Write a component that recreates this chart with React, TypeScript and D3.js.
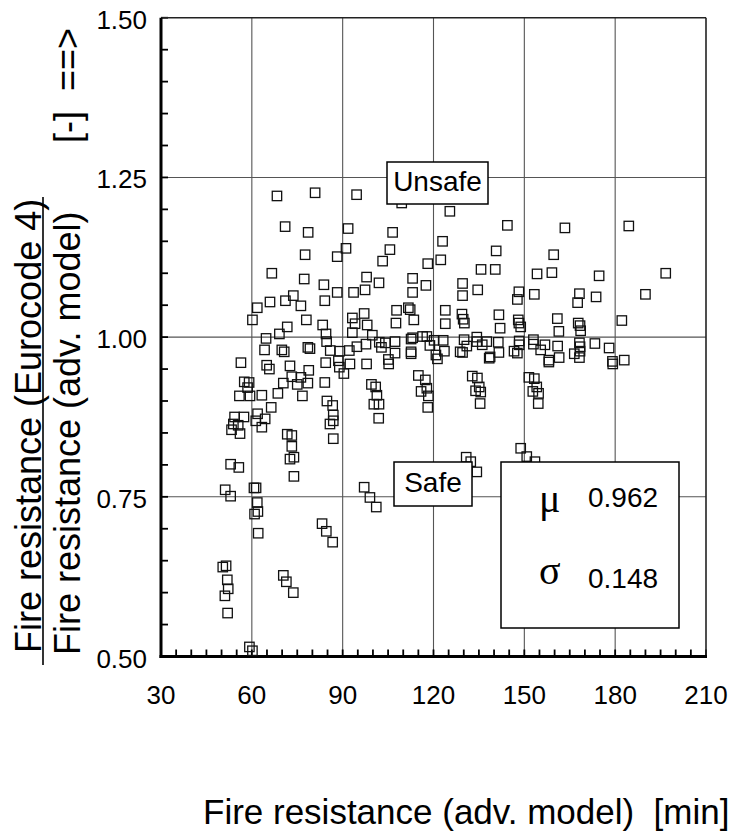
import React from 'react';
import * as d3 from 'd3';

// axis definitions
const xTicks = [30, 60, 90, 120, 150, 180, 210];
const xGrid = [60, 90, 120, 150, 180];
const yTicks = [0.5, 0.75, 1.0, 1.25, 1.5];
const yGrid = [0.75, 1.0, 1.25];
const xMinorStep = 5;
const yMinorStep = 0.05;

// upper cloud (ratio > ~1.07)
const upperX = [68.3, 80.9, 94.6, 109.5, 71.0, 78.6, 91.8, 106.5, 77.6, 91.1,
  88.2, 105.6, 103.2, 118.1, 66.6, 77.3, 83.8, 97.9, 97.4, 102.0,
  113.1, 117.5, 125.4, 144.4, 163.4, 184.5, 123.0, 140.7, 159.7, 122.4,
  135.7, 140.4, 154.2, 159.1, 174.7, 196.7, 129.6, 134.6];
const upperY = [1.221, 1.226, 1.223, 1.210, 1.173, 1.164, 1.170, 1.164, 1.129, 1.139,
  1.126, 1.137, 1.119, 1.115, 1.100, 1.091, 1.082, 1.094, 1.074, 1.085,
  1.092, 1.081, 1.197, 1.175, 1.171, 1.174, 1.150, 1.135, 1.129, 1.121,
  1.106, 1.106, 1.099, 1.101, 1.096, 1.100, 1.084, 1.074];

// middle band, left part (x < ~125)
const midLeftX = [73.7, 66.0, 71.1, 61.8, 76.2, 84.1, 88.2, 93.6, 113.1, 60.2,
  78.0, 71.7, 83.4, 93.2, 97.1, 94.1, 98.1, 93.2, 107.8, 111.7,
  112.3, 107.6, 113.5, 123.9, 123.9, 69.1, 64.7, 84.5, 84.7, 99.8,
  102.1, 104.1, 107.3, 112.6, 113.1, 116.4, 117.8, 120.2, 123.2, 64.2,
  69.9, 70.7, 78.5, 79.2, 85.9, 89.0, 92.2, 94.7, 97.7, 102.8,
  107.3, 112.6, 112.6, 118.8, 120.8, 121.3, 123.6, 56.4, 64.9, 65.8,
  72.6, 78.8, 84.4, 88.6, 88.9, 90.4, 92.4, 97.9, 105.1, 105.2,
  115.0, 117.3, 57.5, 59.1, 58.6, 70.4, 73.2, 76.2, 75.0, 78.5,
  84.1, 99.5, 100.9, 117.8, 115.9, 118.3, 55.9, 59.4, 63.3, 68.6,
  76.7, 84.8, 86.7, 101.3, 100.3, 102.0, 118.1, 66.4, 61.9, 64.4,
  61.3, 63.3, 54.3, 57.4, 53.9, 55.5, 56.1, 53.3, 86.9, 86.9,
  85.8, 101.9, 71.7, 73.2, 86.9, 73.2];
const midLeftY = [1.065, 1.055, 1.057, 1.046, 1.049, 1.057, 1.070, 1.070, 1.070, 1.027,
  1.027, 1.016, 1.019, 1.030, 1.037, 1.021, 1.019, 1.007, 1.042, 1.046,
  1.043, 1.022, 1.027, 1.042, 1.021, 1.005, 0.998, 1.005, 0.993, 1.003,
  0.992, 0.991, 0.993, 0.997, 0.999, 1.001, 1.001, 0.995, 0.995, 0.980,
  0.980, 0.977, 0.984, 0.982, 0.979, 0.978, 0.979, 0.985, 0.989, 0.984,
  0.975, 0.977, 0.974, 0.987, 0.972, 0.966, 0.978, 0.960, 0.956, 0.950,
  0.955, 0.948, 0.960, 0.963, 0.953, 0.943, 0.958, 0.958, 0.965, 0.958,
  0.940, 0.933, 0.930, 0.929, 0.921, 0.928, 0.938, 0.937, 0.926, 0.928,
  0.929, 0.926, 0.922, 0.920, 0.915, 0.908, 0.908, 0.908, 0.909, 0.912,
  0.908, 0.900, 0.893, 0.909, 0.895, 0.895, 0.890, 0.890, 0.880, 0.872,
  0.869, 0.859, 0.875, 0.875, 0.864, 0.862, 0.849, 0.855, 0.878, 0.869,
  0.864, 0.873, 0.848, 0.846, 0.841, 0.829];

// middle band, right part (x > ~125)
const midRightX = [129.6, 148.2, 147.7, 153.3, 168.2, 167.6, 173.7, 190.0, 129.4, 129.8,
  130.2, 141.6, 142.0, 148.0, 148.2, 148.8, 160.9, 161.4, 167.8, 168.4,
  168.6, 182.2, 130.1, 134.3, 134.3, 131.0, 136.1, 137.6, 141.4, 148.3,
  148.3, 153.0, 153.0, 156.8, 155.4, 161.0, 168.2, 168.4, 168.4, 173.3,
  178.0, 128.8, 129.6, 138.7, 138.4, 141.6, 146.6, 147.7, 158.1, 158.1,
  161.5, 166.5, 168.2, 179.1, 179.2, 183.0, 132.8, 134.5, 135.1, 133.9,
  135.6, 135.4, 151.5, 153.3, 154.1, 152.8, 154.7, 154.6, 148.8];
const midRightY = [1.065, 1.071, 1.059, 1.067, 1.068, 1.054, 1.063, 1.067, 1.036, 1.028,
  1.022, 1.035, 1.014, 1.027, 1.022, 1.016, 1.029, 1.009, 1.022, 1.018,
  1.010, 1.026, 0.996, 1.000, 0.993, 0.986, 0.988, 0.993, 0.992, 0.994,
  0.988, 0.996, 0.989, 0.988, 0.980, 0.986, 0.991, 0.985, 0.978, 0.990,
  0.983, 0.977, 0.976, 0.969, 0.967, 0.976, 0.978, 0.975, 0.964, 0.961,
  0.968, 0.974, 0.968, 0.962, 0.958, 0.964, 0.939, 0.936, 0.922, 0.916,
  0.914, 0.896, 0.937, 0.935, 0.922, 0.915, 0.912, 0.896, 0.826];

// lower cloud (ratio < ~0.82)
const lowerX = [53.0, 55.7, 51.2, 53.0, 60.7, 61.4, 61.8, 62.0, 60.9, 62.1,
  72.6, 73.9, 73.9, 97.1, 99.0, 101.1, 83.2, 84.6, 86.7, 50.4,
  51.5, 51.9, 52.2, 51.1, 52.0, 70.4, 71.4, 73.7, 59.2, 60.2,
  130.8, 132.3, 134.3, 150.8, 153.5];
const lowerY = [0.801, 0.796, 0.761, 0.751, 0.764, 0.764, 0.741, 0.727, 0.723, 0.693,
  0.809, 0.812, 0.782, 0.765, 0.749, 0.734, 0.708, 0.696, 0.679, 0.640,
  0.642, 0.620, 0.606, 0.595, 0.568, 0.627, 0.617, 0.600, 0.515, 0.509,
  0.812, 0.805, 0.789, 0.813, 0.805];

const muValue = '0.962';
const sigmaValue = '0.148';

const allX = [...upperX, ...midLeftX, ...midRightX, ...lowerX];
const allY = [...upperY, ...midLeftY, ...midRightY, ...lowerY];

const W = 736;
const H = 840;
const L = 161, R = 706, T = 17.75, B = 656.5;
const FONT = 'Liberation Sans, Arial, Helvetica, sans-serif';
const SERIF = 'Liberation Serif, Times New Roman, serif';

export default function App() {
  const x = d3.scaleLinear().domain([30, 210]).range([L, R]);
  const y = d3.scaleLinear().domain([0.5, 1.5]).range([B, T]);
  const xMinor = d3.range(30, 210 + 0.001, xMinorStep);
  const yMinor = d3.range(0.5, 1.5 + 0.0001, yMinorStep);
  const S = 9.4;
  const tick = 7;

  return (
    <svg width={W} height={H} style={{ position: 'absolute', left: 0, top: 0 }} fontFamily={FONT}>
      <rect x={0} y={0} width={W} height={H} fill="#fff" />
      {/* grid */}
      {xGrid.map(v => (
        <line key={'gx' + v} x1={x(v)} x2={x(v)} y1={T} y2={B} stroke="#555" strokeWidth={1.1} />
      ))}
      {yGrid.map(v => (
        <line key={'gy' + v} x1={L} x2={R} y1={y(v)} y2={y(v)} stroke="#555" strokeWidth={1.1} />
      ))}
      {/* minor ticks */}
      {xMinor.map(v => (
        <line key={'mx' + v} x1={x(v)} x2={x(v)} y1={B} y2={B - tick} stroke="#000" strokeWidth={1.8} />
      ))}
      {yMinor.map(v => (
        <line key={'my' + v} x1={L} x2={L + tick} y1={y(v)} y2={y(v)} stroke="#000" strokeWidth={1.8} />
      ))}
      {/* frame */}
      <line x1={L} x2={R} y1={T} y2={T} stroke="#222" strokeWidth={1.6} />
      <line x1={R} x2={R} y1={T} y2={B} stroke="#222" strokeWidth={1.6} />
      <line x1={L} x2={L} y1={T} y2={B + 1.5} stroke="#000" strokeWidth={3} />
      <line x1={L - 1.5} x2={R + 1} y1={B} y2={B} stroke="#000" strokeWidth={3} />
      {/* points */}
      {allX.map((v, i) => (
        <rect key={'p' + i} x={x(v) - S / 2} y={y(allY[i]) - S / 2} width={S} height={S}
          fill="none" stroke="#111" strokeWidth={1.3} />
      ))}
      {/* annotation boxes */}
      <rect x={387} y={162} width={101} height={42} fill="#fff" stroke="#000" strokeWidth={1.5} />
      <text x={437.5} y={191} fontSize={28} textAnchor="middle">Unsafe</text>
      <rect x={394} y={462} width={78} height={44} fill="#fff" stroke="#000" strokeWidth={1.5} />
      <text x={433} y={492} fontSize={28} textAnchor="middle">Safe</text>
      <rect x={501} y={462} width={178} height={166} fill="#fff" stroke="#000" strokeWidth={1.5} />
      <text x={539} y={512} fontSize={40} fontFamily={SERIF}>μ</text>
      <text x={588} y={507} fontSize={28}>{muValue}</text>
      <text x={539} y={584} fontSize={40} fontFamily={SERIF}>σ</text>
      <text x={588} y={588} fontSize={28}>{sigmaValue}</text>
      {/* tick labels */}
      {yTicks.map(v => (
        <text key={'ly' + v} x={147} y={y(v) + 11} fontSize={26} textAnchor="end">{v.toFixed(2)}</text>
      ))}
      {xTicks.map(v => (
        <text key={'lx' + v} x={x(v)} y={704} fontSize={26} textAnchor="middle">{v}</text>
      ))}
      {/* axis titles */}
      <text transform="translate(41,653) rotate(-90)" fontSize={36}>Fire resistance (Eurocode 4)</text>
      <line x1={43} x2={43} y1={665} y2={197} stroke="#000" strokeWidth={1.6} />
      <text transform="translate(80,655) rotate(-90)" fontSize={36}>Fire resistance (adv. model)</text>
      <text transform="translate(80,143) rotate(-90)" fontSize={36} style={{ whiteSpace: 'pre' }}>{'[-]  ==>'}</text>
      <text x={203} y={824} fontSize={35} style={{ whiteSpace: 'pre' }}>{'Fire resistance (adv. model)  [min]'}</text>
    </svg>
  );
}
